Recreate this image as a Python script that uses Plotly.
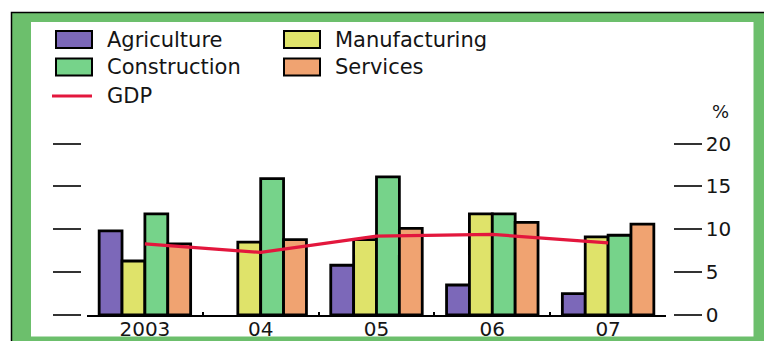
import plotly.graph_objects as go

W, H = 764, 341

years = ["2003", "04", "05", "06", "07"]
series_names = ["Agriculture", "Manufacturing", "Construction", "Services"]
agriculture = [9.8, None, 5.8, 3.5, 2.5]
manufacturing = [6.3, 8.5, 8.8, 11.8, 9.1]
construction = [11.8, 15.9, 16.1, 11.8, 9.3]
services = [8.3, 8.8, 10.1, 10.8, 10.6]
gdp = [8.3, 7.3, 9.2, 9.4, 8.4]
y_ticks = [0, 5, 10, 15, 20]

colors = ["#7c68b9", "#dfe36a", "#76d38a", "#f0a371"]
gdp_color = "#e3173d"
FONT = "DejaVu Sans"
TXT = "#151515"


def px(x):
    return x / W


def py(y):
    return 1 - y / H


fig = go.Figure()
for name, vals, col in zip(series_names, [agriculture, manufacturing, construction, services], colors):
    fig.add_trace(go.Bar(x=years, y=vals, name=name, marker=dict(color=col, line=dict(color="black", width=2.8)),
                         yaxis="y", showlegend=False))
fig.add_trace(go.Scatter(x=years, y=gdp, name="GDP", mode="lines", line=dict(color=gdp_color, width=3.2),
                         yaxis="y2", showlegend=False))

shapes = [
    # green patterned frame approximation
    dict(type="rect", xref="paper", yref="paper", x0=px(11.5), x1=px(775), y0=py(12.5), y1=py(355),
         fillcolor="#6cbf6c", line=dict(color="black", width=1.5), layer="below"),
    dict(type="rect", xref="paper", yref="paper", x0=px(31), x1=px(753.5), y0=py(22), y1=py(336.5),
         fillcolor="white", line=dict(width=0), layer="below"),
]

annotations = []
legend_layout = {"Agriculture": (56, 39.5), "Manufacturing": (284, 39.5),
                 "Construction": (56, 67), "Services": (284, 67)}
for name, col in zip(series_names, colors):
    x0, yc = legend_layout[name]
    shapes.append(dict(type="rect", xref="paper", yref="paper", x0=px(x0), x1=px(x0 + 36),
                       y0=py(yc - 8.5), y1=py(yc + 8.5), fillcolor=col, line=dict(color="black", width=2)))
    annotations.append(dict(x=px(x0 + 49), y=py(yc), xref="paper", yref="paper", text=name, showarrow=False,
                            xanchor="left", yanchor="middle", font=dict(family=FONT, size=21, color=TXT)))
shapes.append(dict(type="line", xref="paper", yref="paper", x0=px(52), x1=px(92), y0=py(96), y1=py(96),
                   line=dict(color=gdp_color, width=3)))
annotations.append(dict(x=px(105), y=py(96), xref="paper", yref="paper", text="GDP", showarrow=False,
                        xanchor="left", yanchor="middle", font=dict(family=FONT, size=21, color=TXT)))
annotations.append(dict(x=px(720), y=py(112), xref="paper", yref="paper", text="%", showarrow=False,
                        xanchor="center", yanchor="middle", font=dict(family=FONT, size=18, color=TXT)))

ydom = [py(315), py(143.5)]
common_y = dict(range=[0, 20], tickvals=y_ticks, domain=ydom, showgrid=False, zeroline=False, showline=False,
                ticks="outside", ticklen=28, tickwidth=2, tickcolor="#333333", anchor="free", fixedrange=True,
                automargin=False)

fig.update_layout(
    template="none",
    width=W, height=H, margin=dict(l=0, r=0, t=0, b=0, pad=0, autoexpand=False),
    paper_bgcolor="white", plot_bgcolor="rgba(0,0,0,0)",
    barmode="group", bargap=0.21, bargroupgap=0.0,
    showlegend=False,
    xaxis=dict(type="category", domain=[px(87), px(666)], showline=True, linecolor="black", linewidth=2,
               ticks="inside", tickson="boundaries", ticklen=3, tickwidth=2, tickcolor="black",
               showgrid=False, zeroline=False, automargin=False, ticklabelstandoff=-5,
               tickfont=dict(family=FONT, size=20, color=TXT), anchor="y"),
    yaxis=dict(**common_y, side="left", position=px(80.7), showticklabels=False),
    yaxis2=dict(**common_y, side="right", position=px(672.7), overlaying="y", showticklabels=True,
                tickfont=dict(family=FONT, size=20, color=TXT)),
    shapes=shapes, annotations=annotations,
)

fig.write_html("out.html")
